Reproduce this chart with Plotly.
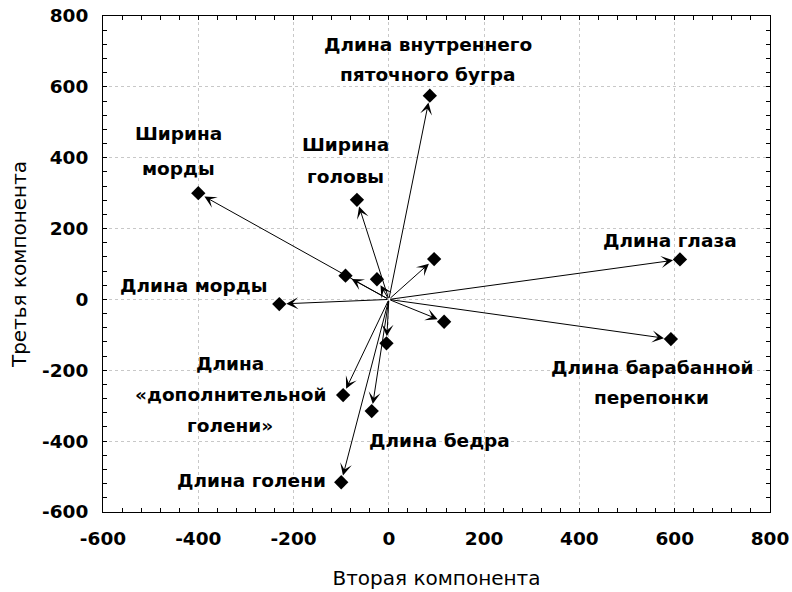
import plotly.graph_objects as go

# Loadings of the morphometric traits on the 2nd and 3rd principal components
names = [
    "Длина внутреннего\nпяточного бугра",
    "Ширина\nморды",
    "Ширина\nголовы",
    "Длина глаза",
    "Длина барабанной\nперепонки",
    "Длина морды",
    "Длина\n«дополнительной\nголени»",
    "Длина бедра",
    "Длина голени",
    "", "", "", "", "",
]
comp2 = [86, -400, -67, 611, 592, -230, -96, -36, -100, -91, -25, 95, 116, -5]
comp3 = [575, 300, 281, 113, -112, -13, -270, -315, -516, 67, 57, 114, -63, -124]

x_ticks = [-600, -400, -200, 0, 200, 400, 600, 800]
y_ticks = [-600, -400, -200, 0, 200, 400, 600, 800]
x_ticktext = ["-600", "-400", "-200", "0", "200", "400", "600", "800"]
y_ticktext = ["-600", "-400", "-200", "0", "200", "400", "600", "800"]

# Label block centre offsets (pixels) from each vector tip
label_dx = [-2, -20, -11, -10, -19, -86, -113, 68, -90, 0, 0, 0, 0, 0]
label_dy = [36, 42, 39, 19, -43, 19, 1, -29, 2, 0, 0, 0, 0, 0]
line_gap = [30, 35, 32, 31, 30, 31, 31, 31, 31, 31, 31, 31, 31, 31]

FONT = "DejaVu Sans, Verdana, sans-serif"

fig = go.Figure()
fig.add_trace(go.Scatter(
    x=comp2, y=comp3, mode="markers",
    marker=dict(symbol="diamond", size=11, color="black"),
    hoverinfo="text", text=[n.replace("\n", " ") for n in names],
    showlegend=False,
))

annotations = []
for xv, yv in zip(comp2, comp3):
    annotations.append(dict(
        x=xv, y=yv, ax=0, ay=0, xref="x", yref="y", axref="x", ayref="y",
        showarrow=True, arrowhead=3, arrowsize=2.0, arrowwidth=1,
        arrowcolor="black", standoff=7, text="",
    ))
for name, xv, yv, dx, dy, gap in zip(names, comp2, comp3,
                                     label_dx, label_dy, line_gap):
    if not name:
        continue
    lines = name.split("\n")
    n = len(lines)
    for i, line in enumerate(lines):
        annotations.append(dict(
            x=xv, y=yv, xref="x", yref="y", text=line, showarrow=False,
            xshift=dx, yshift=dy + ((n - 1) / 2 - i) * gap,
            xanchor="center", yanchor="middle", align="center",
            font=dict(family=FONT, size=18.5, color="black", weight="bold"),
        ))

axis_common = dict(
    showline=True, linecolor="black", linewidth=1, mirror="ticks",
    ticks="inside", ticklen=4, tickcolor="black",
    showgrid=True, gridcolor="#c8c8c8", griddash="dot", gridwidth=1,
    zeroline=False, automargin=False, tickmode="array",
    tickfont=dict(family=FONT, size=18.5, color="black", weight="bold"),
    minor=dict(ticks="inside", ticklen=4, tickcolor="black", dtick=40,
               showgrid=False),
)

fig.update_layout(
    width=792, height=592,
    margin=dict(l=103, r=22, t=16, b=80),
    paper_bgcolor="white", plot_bgcolor="white",
    annotations=annotations,
    xaxis=dict(
        range=[-600, 800], tickvals=x_ticks, ticktext=x_ticktext,
        ticklabelstandoff=10,
        title=dict(text="Вторая компонента",
                   font=dict(family=FONT, size=20, color="black"),
                   standoff=22),
        **axis_common,
    ),
    yaxis=dict(
        range=[-600, 800], tickvals=y_ticks, ticktext=y_ticktext,
        ticklabelstandoff=10,
        title=dict(text="Третья компонента",
                   font=dict(family=FONT, size=20, color="black"),
                   standoff=10),
        **axis_common,
    ),
)

fig.write_html("out.html")
